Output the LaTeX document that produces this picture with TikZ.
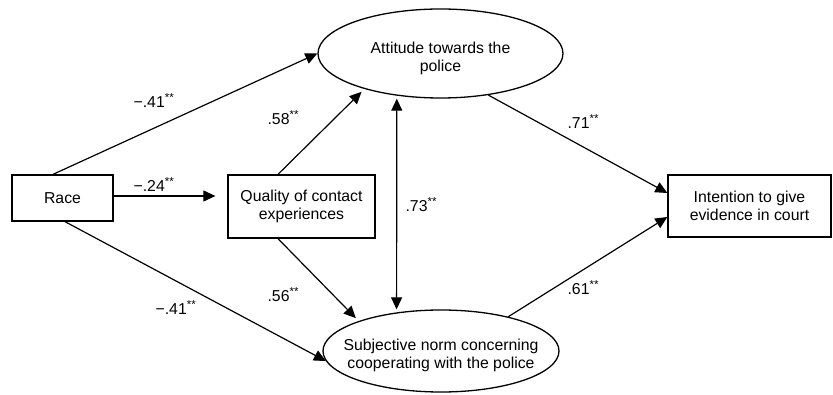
\documentclass[tikz,border=0pt]{standalone}
\usepackage{fontspec}
\setmainfont{Liberation Sans}
\usetikzlibrary{arrows.meta,shapes.geometric}
\newcommand{\sigstars}{\raisebox{0.42em}{\fontsize{11.5}{11.5}\selectfont **}}
\begin{document}
\begin{tikzpicture}[x=1pt,y=-1pt,
  font=\fontsize{15.8}{18}\selectfont,
  line width=1.2pt,
  box/.style={draw, rectangle, inner sep=0pt, align=center, line width=1.3pt},
  ell/.style={draw, ellipse, inner sep=0pt, line width=1.3pt},
  txt/.style={align=center, inner sep=0pt},
  coef/.style={inner sep=0pt, anchor=base west},
  arr/.style={-{Triangle[length=12pt,width=11pt]}},
  darr/.style={{Triangle[length=12pt,width=11pt]}-{Triangle[length=12pt,width=11pt]}}
]
\useasboundingbox (0,0) rectangle (833,395);

% nodes
\node[box, minimum width=101pt, minimum height=46pt] (race) at (62.5,198) {Race};
\node[box, minimum width=147pt, minimum height=63pt] (qual) at (301.5,206.5) {Quality of contact\\experiences};
\node[box, minimum width=163pt, minimum height=62pt] (int) at (749.5,206) {Intention to give\\evidence in court};
\node[ell, minimum width=245pt, minimum height=89pt] (att) at (440.5,53.5) {};
\node[txt] (attt) at (440.5,58) {Attitude towards the\\police};
\node[ell, minimum width=236pt, minimum height=82pt] (subj) at (441,351) {};
\node[txt] (subjt) at (441,355) {Subjective norm concerning\\cooperating with the police};

% connectors
\draw[arr] ([xshift=-9.5pt]race.north) -- (att.west);
\draw[arr] ([xshift=2.5pt]race.south) -- (subj.185);
\draw[arr, shorten >=12pt] ([yshift=2pt]race.east) -- ([yshift=2pt]race.east -| qual.west);
\draw[arr, shorten >=4pt] ([xshift=-23.5pt]qual.north) -- (att.205);
\draw[arr, shorten >=4pt] ([xshift=-23.5pt]qual.south) -- (subj.160);
\draw[darr, shorten >=3pt, shorten <=3pt] (att.224) -- (subj.139);
\draw[arr] (att.-41) -- ([yshift=13pt]int.west);
\draw[arr] (subj.27) -- ([yshift=-11pt]int.west);

% coefficients
\node[coef] (l1) at (133,108) {−.41\sigstars};
\node[coef] (l2) at (267,125) {.58\sigstars};
\node[coef] (l3) at (133,192) {−.24\sigstars};
\node[coef] (l4) at (405,212) {.73\sigstars};
\node[coef] (l5) at (567,129) {.71\sigstars};
\node[coef] (l6) at (267,302) {.56\sigstars};
\node[coef] (l7) at (155,315) {−.41\sigstars};
\node[coef] (l8) at (567,295) {.61\sigstars};
\end{tikzpicture}
\end{document}
